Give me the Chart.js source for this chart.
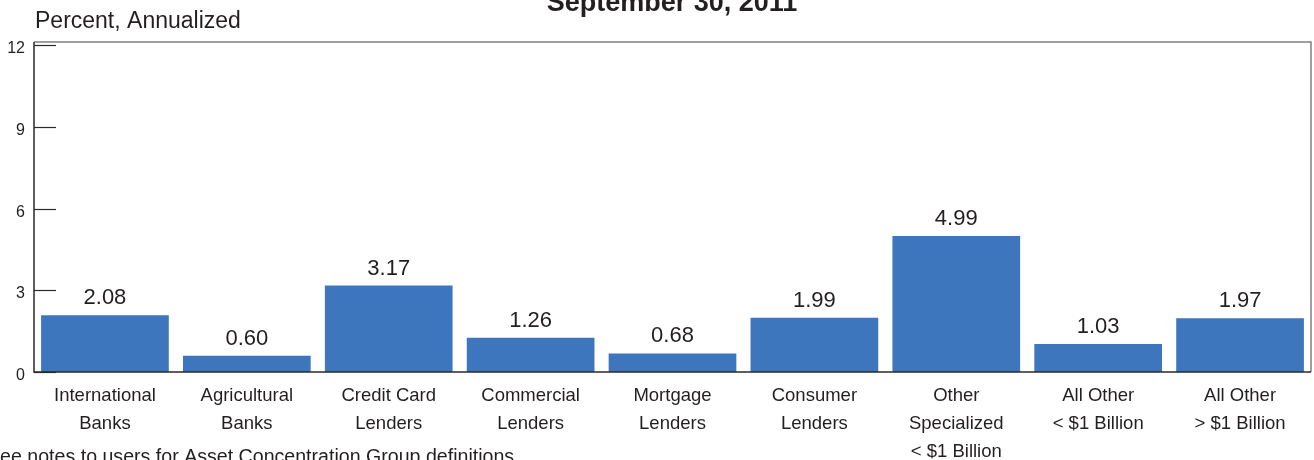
<!DOCTYPE html>
<html>
<head>
<meta charset="utf-8">
<script src="https://cdn.jsdelivr.net/npm/chart.js@4.4.1/dist/chart.umd.min.js"></script>
<style>
  html, body { margin: 0; padding: 0; background: #fff; }
  #wrap { width: 1314px; height: 460px; }
</style>
</head>
<body>
<div id="wrap"><canvas id="my-chart" width="1314" height="460"></canvas></div>
<script>
const categories = [
    ['International', 'Banks'],
    ['Agricultural', 'Banks'],
    ['Credit Card', 'Lenders'],
    ['Commercial', 'Lenders'],
    ['Mortgage', 'Lenders'],
    ['Consumer', 'Lenders'],
    ['Other', 'Specialized', '< $1 Billion'],
    ['All Other', '< $1 Billion'],
    ['All Other', '> $1 Billion'],
];
const rates = [2.08, 0.60, 3.17, 1.26, 0.68, 1.99, 4.99, 1.03, 1.97];
const yTicks = [0, 3, 6, 9, 12];

const chartTitle = 'September 30, 2011';
const unitLabel = 'Percent, Annualized';
const footnote = 'See notes to users for Asset Concentration Group definitions.';

const FONT = '"Liberation Sans", Arial, Helvetica, sans-serif';
const TEXT = '#231f20';

// draws the frame, inside ticks, value labels and loose texts
const extras = {
    id: 'extras',
    afterDatasetsDraw(chart) {
        const ctx = chart.ctx;
        const area = chart.chartArea;
        const y = chart.scales.y;
        ctx.save();

        // top and right frame (light)
        ctx.strokeStyle = '#808080';
        ctx.lineWidth = 1.5;
        ctx.beginPath();
        ctx.moveTo(area.left, area.top - 3);
        ctx.lineTo(area.right, area.top - 3);
        ctx.lineTo(area.right, area.bottom);
        ctx.stroke();

        // left and bottom frame (dark)
        ctx.strokeStyle = '#2a2a2a';
        ctx.beginPath();
        ctx.moveTo(area.left, area.top - 3);
        ctx.lineTo(area.left, area.bottom);
        ctx.lineTo(area.right, area.bottom);
        ctx.stroke();

        // tick marks pointing into the plot, labels slightly below them
        ctx.lineWidth = 1.2;
        ctx.fillStyle = TEXT;
        ctx.font = '16px ' + FONT;
        ctx.textAlign = 'right';
        ctx.textBaseline = 'middle';
        yTicks.forEach(v => {
            const py = Math.round(y.getPixelForValue(v)) + 0.5;
            ctx.beginPath();
            ctx.moveTo(area.left, py);
            ctx.lineTo(area.left + 22, py);
            ctx.stroke();
            ctx.fillText(String(v), area.left - 9, py + 3);
        });

        // values over the bars
        ctx.font = '22px ' + FONT;
        ctx.textAlign = 'center';
        ctx.textBaseline = 'alphabetic';
        const meta = chart.getDatasetMeta(0);
        meta.data.forEach((bar, i) => {
            ctx.fillText(rates[i].toFixed(2), bar.x, bar.y - 11);
        });

        // title (cut at the top edge)
        ctx.font = 'bold 27px ' + FONT;
        ctx.fillText(chartTitle, 672, 11);

        // unit label
        ctx.textAlign = 'left';
        ctx.font = '23px ' + FONT;
        ctx.fillText(unitLabel, 35, 28);

        // footnote (cut at left and bottom)
        ctx.font = '19.6px ' + FONT;
        ctx.fillText(footnote, -13, 463);

        ctx.restore();
    }
};

const ctx = document.getElementById('my-chart').getContext('2d');

let myChart = new Chart(ctx, {
    type: 'bar',
    data: {
        labels: categories,
        datasets: [
            {
                data: rates,
                backgroundColor: '#3d76bc',
                borderWidth: 0,
                categoryPercentage: 0.9,
                barPercentage: 1.0,
            },
        ],
    },
    options: {
        responsive: false,
        animation: false,
        events: [],
        layout: {
            padding: { top: 45, right: 3, bottom: 0, left: 0 },
        },
        plugins: {
            legend: { display: false },
            tooltip: { enabled: false },
            title: { display: false },
        },
        scales: {
            x: {
                grid: { display: false, drawTicks: false },
                border: { display: false },
                ticks: {
                    color: TEXT,
                    padding: 10,
                    maxRotation: 0,
                    autoSkip: false,
                    font: { family: FONT, size: 18.5, lineHeight: 1.52 },
                },
                afterFit(scale) { scale.height = 88; },
            },
            y: {
                min: 0,
                max: 12,
                afterBuildTicks(scale) {
                    scale.ticks = yTicks.map(v => ({ value: v }));
                },
                grid: { display: false, drawTicks: false },
                border: { display: false },
                ticks: { display: false },
                afterFit(scale) { scale.width = 34; },
            },
        },
    },
    plugins: [extras],
});
</script>
</body>
</html>
